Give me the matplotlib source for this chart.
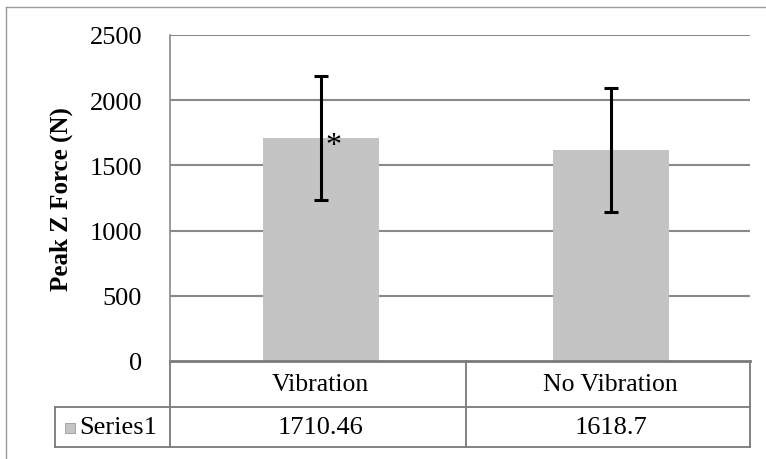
import matplotlib
matplotlib.use("Agg")
import matplotlib.pyplot as plt
from matplotlib.patches import Rectangle

categories = ["Vibration", "No Vibration"]
series_name = "Series1"
values = [1710.46, 1618.7]
value_labels = ["1710.46", "1618.7"]
errors = [475, 475]
yticks = [0, 500, 1000, 1500, 2000, 2500]

plt.rcParams['font.family'] = ['Liberation Serif', 'DejaVu Serif']

W, H = 766, 460
fig = plt.figure(figsize=(W / 100, H / 100), dpi=100)
fig.patch.set_facecolor('white')

# axes in pixel geometry
px_l, px_r, px_t, px_b = 170, 750, 36, 362
ax = fig.add_axes([px_l / W, (H - px_b) / H, (px_r - px_l) / W, (px_b - px_t) / H])

x = list(range(len(categories)))
grid_c = '#8a8a8a'
ax.set_ylim(0, 2500)
ax.set_xlim(-0.52, 1.48)
for t in yticks[1:]:
    ax.axhline(t, color=grid_c, lw=1.5, zorder=1)

ax.bar(x, values, width=0.4, color='#c4c4c4', zorder=2)
ax.errorbar(x, values, yerr=errors, fmt='none', ecolor='black', elinewidth=2.2,
            capsize=5, capthick=2.2, zorder=3)
ax.text(x[0] + 0.045, values[0] - 60, '*', ha='center', va='center', fontsize=23, zorder=4)

ax.set_yticks(yticks)
ax.set_yticklabels([str(t) for t in yticks], fontsize=19)
ax.tick_params(axis='y', length=0, pad=20)
ax.set_xticks([])
for s in ['top', 'right', 'bottom']:
    ax.spines[s].set_visible(False)
ax.spines['left'].set_color(grid_c)
ax.spines['left'].set_linewidth(1.2)
ax.set_ylabel('Peak Z Force (N)', fontsize=18, fontweight='bold', labelpad=12)

# data table under axes
def ay(py):
    return (px_b - py) / (px_b - px_t)

def axx(pxv):
    return (pxv - px_l) / (px_r - px_l)

row1_b = ay(408)
row2_b = ay(448)
left_series = axx(55)
lc = '#7a7a7a'
lkw = dict(transform=ax.transAxes, clip_on=False, color=lc, lw=1.3)
ax.plot([0, 1], [0, 0], color=lc, lw=2.0, transform=ax.transAxes, clip_on=False)
ax.plot([left_series, 1], [row1_b, row1_b], **lkw)
ax.plot([left_series, 1], [row2_b, row2_b], **lkw)
ax.plot([0, 0], [0, row2_b], **lkw)
ax.plot([1, 1], [0, row2_b], **lkw)
ax.plot([left_series, left_series], [row1_b, row2_b], **lkw)
# column divider between categories (data x midpoint)
bt = ax.get_xaxis_transform()
mid = (x[0] + x[1]) / 2
ax.plot([mid, mid], [0, row2_b], transform=bt, clip_on=False, color=lc, lw=1.3)

for xi, c, v in zip(x, categories, value_labels):
    ax.text(xi, (0 + row1_b) / 2, c, transform=bt, ha='center', va='center', fontsize=18.5)
    ax.text(xi, (row1_b + row2_b) / 2, v, transform=bt, ha='center', va='center', fontsize=19)

# legend key + series name
ax.add_patch(Rectangle((axx(65), ay(434)), axx(75) - axx(65), ay(424) - ay(434),
                       transform=ax.transAxes, clip_on=False, facecolor='#c4c4c4',
                       edgecolor='#9a9a9a', lw=0.6))
ax.text(axx(79), (row1_b + row2_b) / 2, series_name, transform=ax.transAxes,
        ha='left', va='center', fontsize=19)

# outer chart frame (left and top edges)
fig.add_artist(plt.Line2D([6 / W, 6 / W], [0, 1 - 8 / H], color='#9a9a9a', lw=1.0))
fig.add_artist(plt.Line2D([6 / W, 1], [1 - 8 / H, 1 - 8 / H], color='#9a9a9a', lw=1.0))

fig.savefig('out.png', dpi=100)
